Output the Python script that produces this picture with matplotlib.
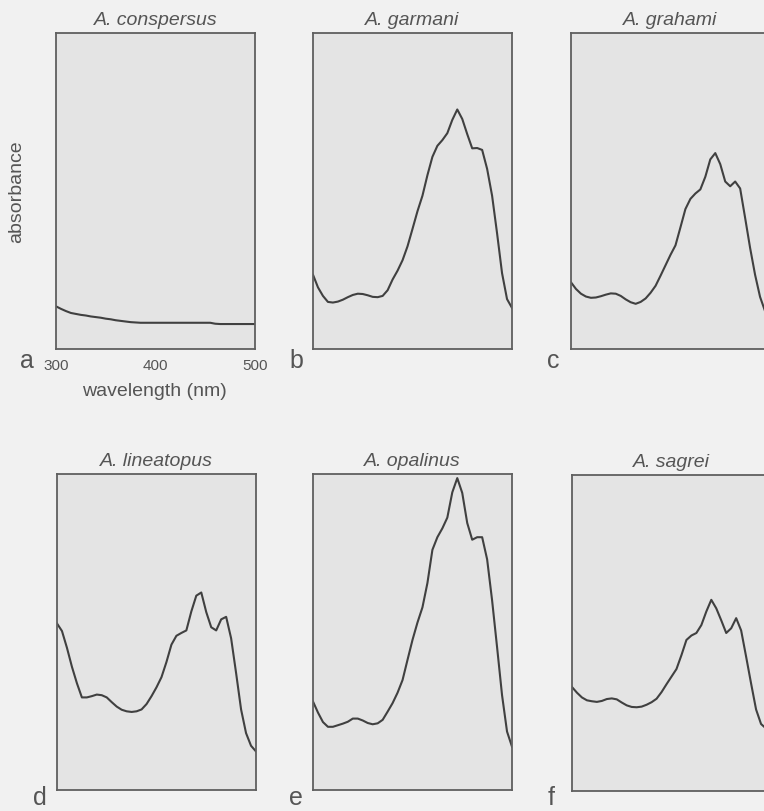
import matplotlib
matplotlib.use("Agg")
import matplotlib.pyplot as plt

plt.rcParams['font.family'] = ['Liberation Sans', 'DejaVu Sans']

# wavelength grid (nm), 5 nm steps
wavelength = list(range(300, 505, 5))

# relative absorbance (0 = bottom of frame, 1 = top)
conspersus = [0.135, 0.127, 0.120, 0.114, 0.111, 0.108, 0.106, 0.103, 0.101, 0.099,
              0.096, 0.094, 0.091, 0.089, 0.087, 0.085, 0.084, 0.083, 0.083, 0.083,
              0.083, 0.083, 0.083, 0.083, 0.083, 0.083, 0.083, 0.083, 0.083, 0.083,
              0.083, 0.083, 0.080, 0.079, 0.079, 0.079, 0.079, 0.079, 0.079, 0.079, 0.079]
garmani = [0.235, 0.195, 0.168, 0.149, 0.147, 0.150, 0.156, 0.164, 0.171, 0.175,
           0.174, 0.170, 0.165, 0.164, 0.168, 0.186, 0.220, 0.248, 0.281, 0.325,
           0.380, 0.436, 0.485, 0.550, 0.608, 0.643, 0.661, 0.683, 0.725, 0.758,
           0.728, 0.680, 0.635, 0.636, 0.630, 0.570, 0.485, 0.366, 0.240, 0.158, 0.130]
grahami = [0.211, 0.190, 0.175, 0.166, 0.162, 0.163, 0.167, 0.172, 0.176, 0.175,
           0.168, 0.157, 0.148, 0.143, 0.149, 0.160, 0.178, 0.200, 0.232, 0.265,
           0.298, 0.328, 0.385, 0.443, 0.475, 0.492, 0.505, 0.545, 0.600, 0.620,
           0.585, 0.530, 0.515, 0.530, 0.508, 0.415, 0.320, 0.235, 0.165, 0.120, 0.090]
lineatopus = [0.527, 0.503, 0.450, 0.390, 0.338, 0.293, 0.293, 0.297, 0.302, 0.300,
              0.293, 0.278, 0.264, 0.254, 0.249, 0.247, 0.249, 0.255, 0.272, 0.297,
              0.325, 0.357, 0.405, 0.460, 0.488, 0.497, 0.505, 0.565, 0.615, 0.625,
              0.563, 0.515, 0.505, 0.540, 0.548, 0.480, 0.370, 0.255, 0.180, 0.140, 0.122]
opalinus = [0.280, 0.245, 0.215, 0.200, 0.200, 0.205, 0.210, 0.216, 0.226, 0.226,
            0.220, 0.212, 0.208, 0.211, 0.222, 0.248, 0.275, 0.308, 0.348, 0.412,
            0.475, 0.530, 0.578, 0.655, 0.760, 0.800, 0.828, 0.862, 0.942, 0.987,
            0.940, 0.845, 0.792, 0.800, 0.800, 0.730, 0.600, 0.452, 0.300, 0.185, 0.137]
sagrei = [0.329, 0.311, 0.296, 0.287, 0.284, 0.282, 0.285, 0.291, 0.293, 0.290,
          0.280, 0.271, 0.266, 0.265, 0.267, 0.273, 0.281, 0.292, 0.313, 0.338,
          0.362, 0.386, 0.430, 0.478, 0.492, 0.500, 0.525, 0.568, 0.605, 0.578,
          0.540, 0.500, 0.515, 0.547, 0.508, 0.425, 0.340, 0.258, 0.212, 0.198, 0.180]

species = ['A. conspersus', 'A. garmani', 'A. grahami',
           'A. lineatopus', 'A. opalinus', 'A. sagrei']
spectra = [conspersus, garmani, grahami, lineatopus, opalinus, sagrei]
letters = ['a', 'b', 'c', 'd', 'e', 'f']

W, H = 764, 811
fig = plt.figure(figsize=(W / 100, H / 100), dpi=100)
fig.patch.set_facecolor('#f1f1f1')

txt = '#555555'
# panel frames in pixels: left, top, width, height
lefts = [56, 313, 571, 57, 313, 572]
tops = [33, 33, 33, 474, 474, 475]
pw, ph = 199, 316

for i in range(6):
    l, t = lefts[i], tops[i]
    ax = fig.add_axes([l / W, 1 - (t + ph) / H, pw / W, ph / H])
    ax.set_facecolor('#e4e4e4')
    ax.plot(wavelength, spectra[i], color='#404040', lw=1.5)
    ax.set_xlim(300, 500)
    ax.set_ylim(0, 1)
    for s in ax.spines.values():
        s.set_color('#5f5f5f')
        s.set_linewidth(1.3)
    ax.set_yticks([])
    if i == 0:
        ax.set_xticks([300, 400, 500])
        ax.tick_params(axis='x', length=0, pad=7, labelsize=11, labelcolor=txt)
    else:
        ax.set_xticks([])
    ax.set_title(species[i], fontsize=14, style='italic', color=txt, pad=6)

    # panel letter
    if i == 0:
        lx = 20
    else:
        lx = l - 24
    ly = min(t + ph + 19, 805)
    fig.text(lx / W, 1 - ly / H, letters[i], fontsize=18, color=txt,
             ha='left', va='baseline')

fig.text(154 / W, 1 - 392 / H, 'wavelength (nm)', fontsize=14, color=txt,
         ha='center', va='center')
fig.text(17 / W, 1 - 192 / H, 'absorbance', fontsize=14, color=txt,
         ha='center', va='center', rotation=90)

fig.savefig('out.png', dpi=100, facecolor=fig.get_facecolor())
